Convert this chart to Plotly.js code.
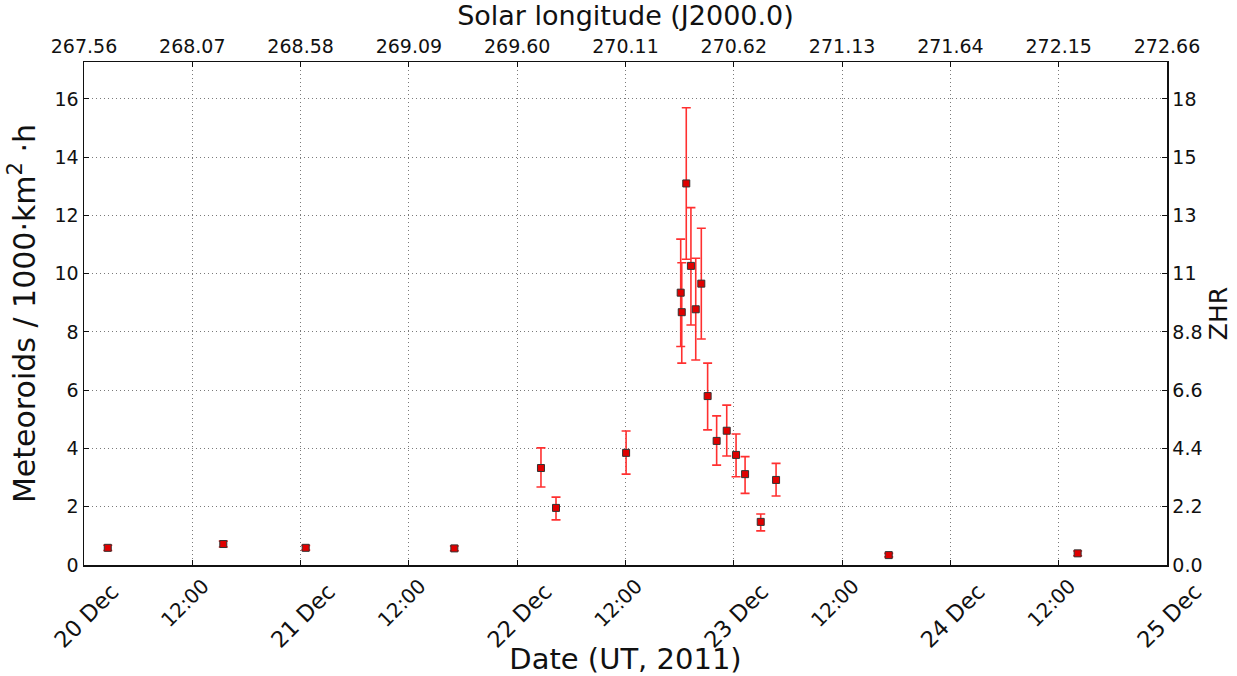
<!DOCTYPE html>
<html><head><meta charset="utf-8">
<script src="https://cdn.plot.ly/plotly-3.0.1.min.js"></script>
<style>html,body{margin:0;padding:0;background:#fff}#chart{width:1237px;height:676px}</style>
</head><body><div id="chart"></div>
<script>
// Observation times (UT, 2011)
const times = [
  '2011-12-20 02:38', '2011-12-20 15:26', '2011-12-21 00:34', '2011-12-21 17:02',
  '2011-12-22 02:38', '2011-12-22 04:18', '2011-12-22 12:04', '2011-12-22 18:07',
  '2011-12-22 18:14', '2011-12-22 18:44', '2011-12-22 19:15', '2011-12-22 19:47',
  '2011-12-22 20:24', '2011-12-22 21:06', '2011-12-22 22:06', '2011-12-22 23:13',
  '2011-12-23 00:15', '2011-12-23 01:15', '2011-12-23 02:59', '2011-12-23 04:41',
  '2011-12-23 17:10', '2011-12-24 14:06'
];
// Flux (meteoroids / 1000 km^2 h)
const rates = [0.59, 0.72, 0.59, 0.57, 3.33, 1.96, 3.85, 9.35, 8.68, 13.1, 10.27, 8.78,
               9.66, 5.80, 4.26, 4.61, 3.78, 3.12, 1.48, 2.92, 0.34, 0.40];
const errPlus  = [0.09, 0.10, 0.08, 0.08, 0.69, 0.37, 0.75, 1.84, 1.70, 2.60, 2.00, 1.75,
                  1.90, 1.13, 0.86, 0.88, 0.72, 0.60, 0.27, 0.57, 0.06, 0.08];
const errMinus = [0.09, 0.10, 0.08, 0.08, 0.65, 0.41, 0.73, 1.85, 1.75, 2.60, 2.03, 1.74,
                  1.90, 1.16, 0.83, 0.87, 0.75, 0.66, 0.31, 0.55, 0.06, 0.08];

// Axis ticks (days = major ticks, 12:00 = minor ticks)
const dayTickVals = ['2011-12-20', '2011-12-21', '2011-12-22', '2011-12-23', '2011-12-24', '2011-12-25'];
const dayTickText = ['20 Dec', '21 Dec', '22 Dec', '23 Dec', '24 Dec', '25 Dec'];
const noonTickVals = ['2011-12-20 12:00', '2011-12-21 12:00', '2011-12-22 12:00', '2011-12-23 12:00', '2011-12-24 12:00'];
const noonTickText = ['12:00', '12:00', '12:00', '12:00', '12:00'];
const rateTicks = [0, 2, 4, 6, 8, 10, 12, 14, 16];
const zhrTickText = ['0.0', '2.2', '4.4', '6.6', '8.8', '11', '13', '15', '18'];
const solarTicks = [267.56, 268.07, 268.58, 269.09, 269.60, 270.11, 270.62, 271.13, 271.64, 272.15, 272.66];

const FONT = 'DejaVu Sans, sans-serif';
const yMax = 17.27;
const xRange = [dayTickVals[0], dayTickVals[dayTickVals.length - 1]];
const GRID = {showgrid: true, gridcolor: '#7a7a7a', gridwidth: 1, griddash: '1px,3px'};

const traces = [
  {
    x: times, y: rates, type: 'scatter', mode: 'markers',
    marker: {symbol: 'square', size: 7, color: '#e00000', line: {color: '#333333', width: 1}},
    error_y: {type: 'data', symmetric: false, array: errPlus, arrayminus: errMinus,
              color: '#ff3030', thickness: 1.6, width: 4.5},
    hoverinfo: 'x+y', showlegend: false
  },
  {
    x: [solarTicks[0], solarTicks[solarTicks.length - 1]], y: [rateTicks[0], rateTicks[0]],
    xaxis: 'x2', yaxis: 'y2', type: 'scatter', mode: 'markers',
    marker: {opacity: 0}, hoverinfo: 'skip', showlegend: false
  },
  {
    x: noonTickVals, y: noonTickVals.map(() => rateTicks[0]),
    xaxis: 'x3', yaxis: 'y', type: 'scatter', mode: 'markers',
    marker: {opacity: 0}, hoverinfo: 'skip', showlegend: false
  }
];

const axisCommon = {
  showline: true, linecolor: '#111', linewidth: 1.5,
  ticks: 'inside', ticklen: 5, tickcolor: '#111', tickwidth: 1,
  tickfont: {family: FONT, size: 19, color: '#111'},
  zeroline: false
};

const layout = {
  width: 1237, height: 676,
  margin: {l: 84, r: 70, t: 62, b: 111},
  paper_bgcolor: '#fff', plot_bgcolor: '#fff',
  font: {family: FONT, color: '#111'},
  xaxis: Object.assign({}, axisCommon, GRID, {
    type: 'date', range: xRange,
    tickmode: 'array', tickvals: dayTickVals, ticktext: dayTickText,
    tickfont: {family: FONT, size: 22.5, color: '#111'},
    tickangle: -45, ticklabelshift: 28, ticklabelstandoff: 3,
    title: {text: 'Date (UT, 2011)', font: {family: FONT, size: 29, color: '#111'}, standoff: 4}
  }),
  xaxis3: Object.assign({}, axisCommon, GRID, {
    type: 'date', range: xRange, overlaying: 'x', side: 'bottom', anchor: 'y',
    tickmode: 'array', tickvals: noonTickVals, ticktext: noonTickText,
    tickfont: {family: FONT, size: 20, color: '#111'},
    tickangle: -45, ticklabelshift: 11, ticklabelstandoff: 0
  }),
  xaxis2: Object.assign({}, axisCommon, {
    overlaying: 'x', side: 'top', anchor: 'y',
    range: [solarTicks[0], solarTicks[solarTicks.length - 1]],
    tickmode: 'array', tickvals: solarTicks, ticktext: solarTicks.map(v => v.toFixed(2)),
    showgrid: false,
    title: {text: 'Solar longitude (J2000.0)', font: {family: FONT, size: 27, color: '#111'}, standoff: 6}
  }),
  yaxis: Object.assign({}, axisCommon, GRID, {
    range: [0, yMax], tickmode: 'array', tickvals: rateTicks, ticktext: rateTicks.map(String),
    title: {text: 'Meteoroids / 1000·km<sup>2</sup> ·h', font: {family: FONT, size: 30, color: '#111'}, standoff: 10}
  }),
  yaxis2: Object.assign({}, axisCommon, {
    overlaying: 'y', side: 'right', anchor: 'x',
    range: [0, yMax], tickmode: 'array', tickvals: rateTicks, ticktext: zhrTickText,
    showgrid: false,
    title: {text: 'ZHR', font: {family: FONT, size: 25, color: '#111'}, standoff: 8}
  })
};

Plotly.newPlot('chart', traces, layout, {displayModeBar: false, staticPlot: true});
</script>
</body></html>
